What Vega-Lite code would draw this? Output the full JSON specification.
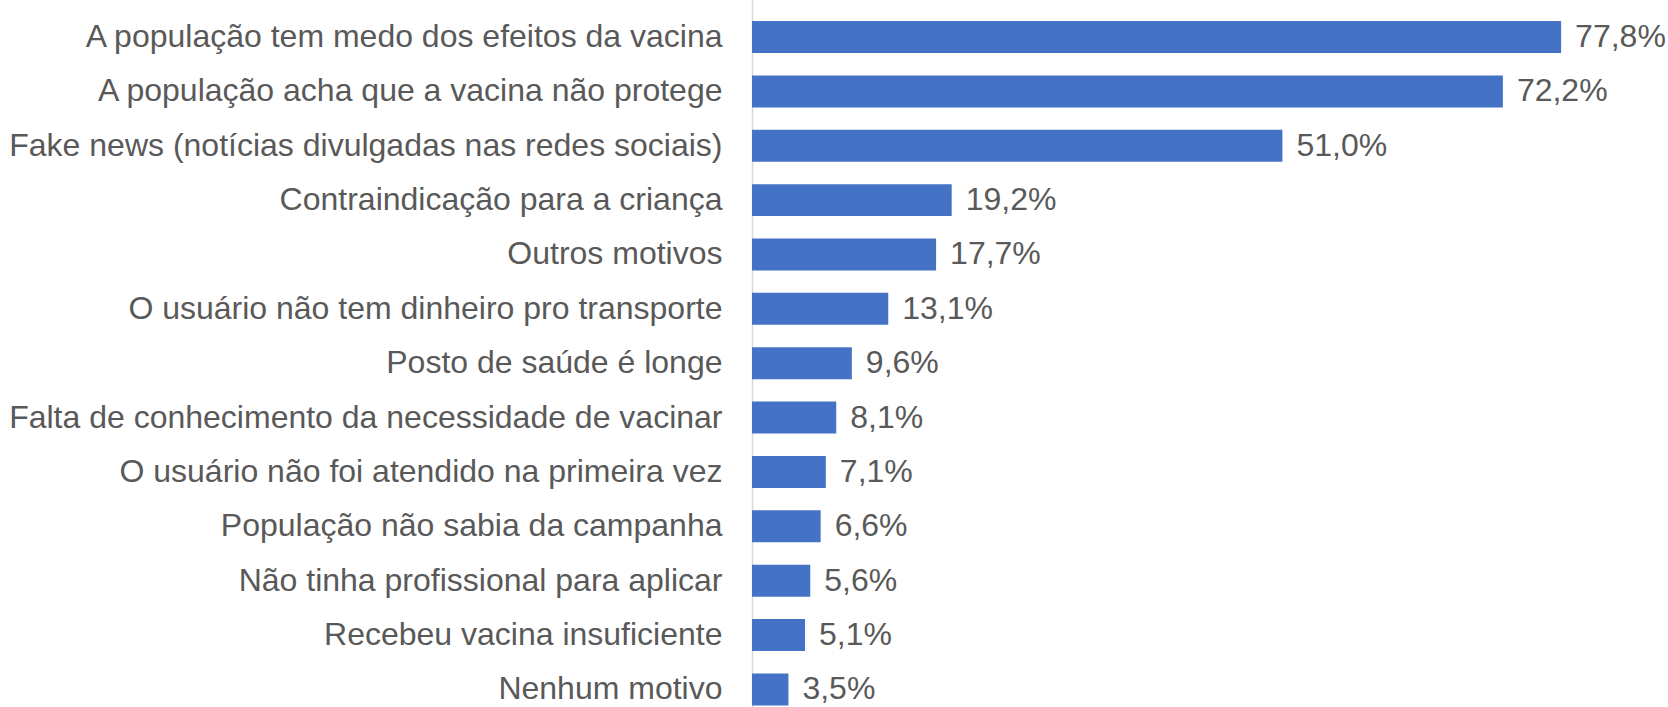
{
  "$schema": "https://vega.github.io/schema/vega-lite/v6.json",
  "autosize": "none",
  "width": 832,
  "height": 707,
  "padding": {"left": 752, "top": 0, "right": 84, "bottom": 0},
  "config": {
    "view": {"stroke": null},
    "font": "Liberation Sans",
    "locale": {"number": {"decimal": ",", "thousands": ".", "grouping": [3], "currency": ["", " €"]}}
  },
  "data": {
    "values": [
      {"motivo": "A população tem medo dos efeitos da vacina", "valor": 0.778},
      {"motivo": "A população acha que a vacina não protege", "valor": 0.722},
      {"motivo": "Fake news (notícias divulgadas nas redes sociais)", "valor": 0.510},
      {"motivo": "Contraindicação para a criança", "valor": 0.192},
      {"motivo": "Outros motivos", "valor": 0.177},
      {"motivo": "O usuário não tem dinheiro pro transporte", "valor": 0.131},
      {"motivo": "Posto de saúde é longe", "valor": 0.096},
      {"motivo": "Falta de conhecimento da necessidade de vacinar", "valor": 0.081},
      {"motivo": "O usuário não foi atendido na primeira vez", "valor": 0.071},
      {"motivo": "População não sabia da campanha", "valor": 0.066},
      {"motivo": "Não tinha profissional para aplicar", "valor": 0.056},
      {"motivo": "Recebeu vacina insuficiente", "valor": 0.051},
      {"motivo": "Nenhum motivo", "valor": 0.035}
    ]
  },
  "encoding": {
    "y": {
      "field": "motivo",
      "type": "nominal",
      "sort": null,
      "scale": {"paddingInner": 0.4115, "paddingOuter": 0.207, "align": 0.933},
      "axis": {
        "title": null,
        "ticks": false,
        "labelLimit": 1000,
        "labelPadding": 30,
        "labelFontSize": 32,
        "labelColor": "#595959",
        "labelFont": "Liberation Sans",
        "domainColor": "#d9d9d9",
        "domainWidth": 1.5
      }
    },
    "x": {
      "field": "valor",
      "type": "quantitative",
      "scale": {"domain": [0, 0.8], "nice": false},
      "axis": null
    }
  },
  "layer": [
    {"mark": {"type": "bar", "color": "#4472C4"}},
    {
      "mark": {"type": "text", "align": "left", "dx": 14, "fontSize": 32, "color": "#595959", "font": "Liberation Sans", "baseline": "middle"},
      "encoding": {"text": {"field": "valor", "type": "quantitative", "format": ".1%"}}
    }
  ]
}
